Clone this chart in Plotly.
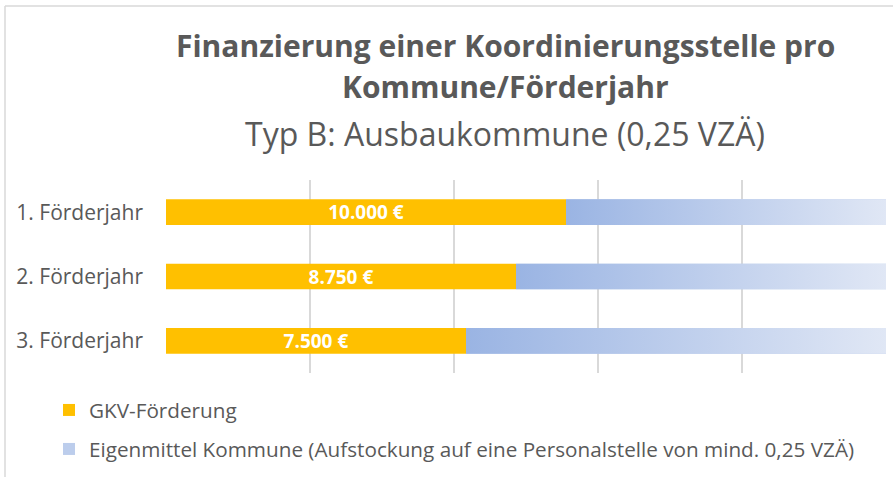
import plotly.graph_objects as go

categories = ["1. Förderjahr", "2. Förderjahr", "3. Förderjahr"]
gkv = [10000, 8750, 7500]
eigen = [8000, 9250, 10500]
labels = ["10.000 €", "8.750 €", "7.500 €"]

ORANGE = "#FFC000"
BLUE_L = "#9AB4E3"
BLUE_R = "#E0E7F5"
GREY = "#595959"
FONT = "Open Sans"

pos = list(range(len(categories)))
half = 0.2

fig = go.Figure()
fig.add_trace(go.Bar(
    y=pos, x=gkv, orientation="h", name="GKV-Förderung",
    marker=dict(color=ORANGE, line=dict(width=0)), width=2 * half,
    text=labels, textposition="inside", insidetextanchor="middle",
    constraintext="none", textangle=0,
    textfont=dict(color="white", size=19, family=FONT, weight="bold"),
    legend="legend",
))
fig.add_trace(go.Bar(
    y=pos, x=eigen, base=gkv, orientation="h",
    name="Eigenmittel Kommune (Aufstockung auf eine Personalstelle von mind. 0,25 VZÄ)",
    marker=dict(color="#BCCDEC", line=dict(width=0)), width=2 * half,
    legend="legend2",
))
# gradient overlay for the Eigenmittel segments
for p, g, e in zip(pos, gkv, eigen):
    x0, x1 = g, g + e
    fig.add_trace(go.Scatter(
        x=[x0, x1, x1, x0, x0], y=[p - half, p - half, p + half, p + half, p - half],
        mode="lines", line=dict(width=0), fill="toself",
        fillgradient=dict(type="horizontal", colorscale=[[0, BLUE_L], [1, BLUE_R]]),
        showlegend=False, hoverinfo="skip",
    ))

W, H = 893, 477
PW = 720.0
PH = 193.0
def px(x):
    return (x - 166) / PW
def py(y):
    return (373 - y) / PH

legend_common = dict(
    orientation="v", xanchor="left", yanchor="middle",
    font=dict(size=20.7, color=GREY, family=FONT), itemwidth=30,
)

fig.update_layout(
    width=W, height=H,
    margin=dict(l=166, r=7, t=180, b=104),
    paper_bgcolor="white", plot_bgcolor="white",
    barmode="overlay",
    font=dict(family=FONT, color=GREY),
    showlegend=True,
    legend=dict(x=px(49), y=py(410), **legend_common),
    legend2=dict(x=px(49), y=py(449), **legend_common),
    xaxis=dict(
        range=[0, 18000], dtick=3600, showticklabels=False,
        showgrid=True, gridcolor="#D9D9D9", gridwidth=1.5,
        zeroline=False, showline=False, fixedrange=True,
    ),
    yaxis=dict(
        tickvals=pos, ticktext=categories, range=[2.5, -0.5],
        showgrid=False, zeroline=False, showline=False,
        tickfont=dict(size=21, color=GREY, family=FONT),
        ticks="", ticklabelstandoff=22, fixedrange=True,
    ),
    annotations=[
        dict(text="<b>Finanzierung einer Koordinierungsstelle pro</b>",
             x=px(505), y=py(45), xref="paper", yref="paper",
             xanchor="center", yanchor="middle", showarrow=False,
             font=dict(size=30, color=GREY, family=FONT)),
        dict(text="<b>Kommune/Förderjahr</b>",
             x=px(505), y=py(86), xref="paper", yref="paper",
             xanchor="center", yanchor="middle", showarrow=False,
             font=dict(size=30, color=GREY, family=FONT)),
        dict(text="Typ B: Ausbaukommune (0,25 VZÄ)",
             x=px(505), y=py(133), xref="paper", yref="paper",
             xanchor="center", yanchor="middle", showarrow=False,
             font=dict(size=32, color=GREY, family=FONT)),
    ],
    shapes=[
        dict(type="line", xref="paper", yref="paper",
             x0=px(5), x1=px(5), y0=py(6), y1=py(480),
             line=dict(color="#D9D9D9", width=1.5)),
        dict(type="line", xref="paper", yref="paper",
             x0=px(5), x1=px(900), y0=py(6), y1=py(6),
             line=dict(color="#D9D9D9", width=1.5)),
    ],
)

fig.write_html("out.html", config={"displayModeBar": False},
               post_script="document.body.style.margin='0';")
